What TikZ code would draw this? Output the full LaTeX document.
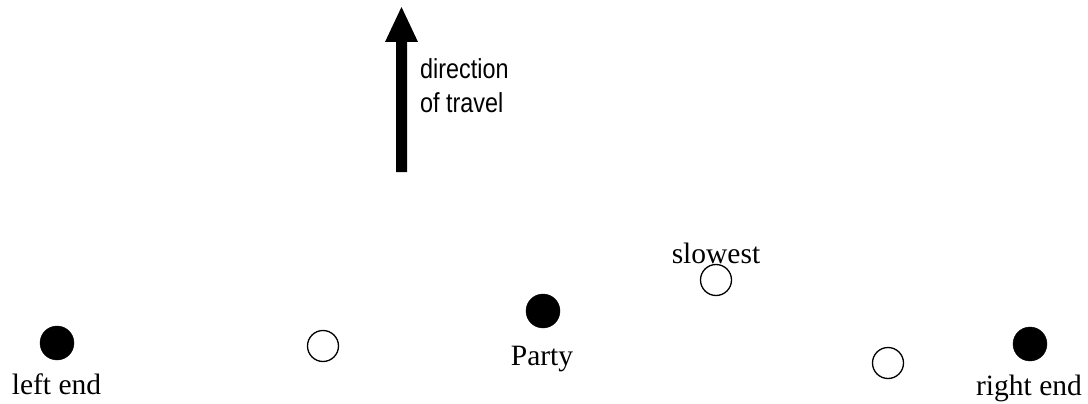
\documentclass[tikz,border=0pt]{standalone}
\usepackage{fontspec}
\usepackage{graphicx}
\setmainfont{Liberation Serif}
\newfontfamily\sansf{Liberation Sans}
\begin{document}
\begin{tikzpicture}[x=1pt,y=-1pt,
  fulldot/.style={circle,fill=black,draw=black,inner sep=0pt,minimum size=34pt},
  opendot/.style={circle,draw=black,line width=1.3pt,fill=white,inner sep=0pt,minimum size=31pt},
  lbl/.style={anchor=base,inner sep=0pt,font=\fontsize{29.5}{34}\selectfont},
  slbl/.style={anchor=base west,inner sep=0pt,font=\sansf\fontsize{27.5}{35}\selectfont}]
\useasboundingbox (0,0) rectangle (1088,404);
% direction arrow
\fill (396,42) -- (396,172) -- (407,172) -- (407,42) -- (418,42) -- (401.5,7) -- (385,42) -- cycle;
\node[slbl] (dir1) at (420,78) {\scalebox{0.85}[1]{direction}};
\node[slbl] (dir2) at (420,113) {\scalebox{0.85}[1]{of travel}};
% dots
\node[fulldot] (le) at (57,343) {};
\node[opendot] (o1) at (323,346) {};
\node[fulldot] (party) at (543,311) {};
\node[opendot] (slow) at (716,280) {};
\node[opendot] (o2) at (888,363) {};
\node[fulldot] (re) at (1030,344) {};
% labels
\node[lbl] (lel) at (56.5,394) {left end};
\node[lbl] (pl) at (542,365) {Party};
\node[lbl] (sl) at (716,263) {slowest};
\node[lbl] (rel) at (1029,395) {right end};
\end{tikzpicture}
\end{document}
